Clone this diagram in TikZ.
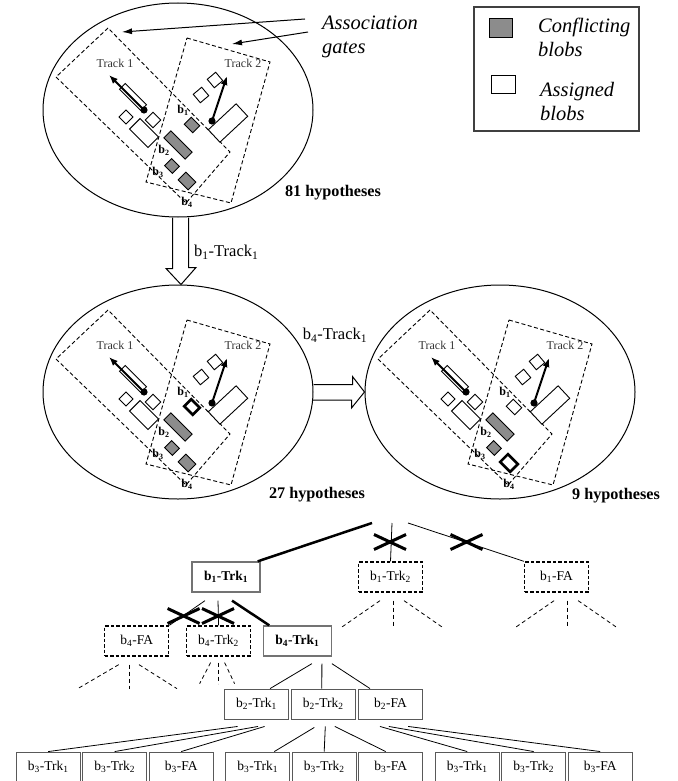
\documentclass[tikz,border=0pt]{standalone}
\usepackage{fontspec}
\setmainfont{Liberation Serif}
\usetikzlibrary{shapes.geometric,arrows.meta}

\newcommand{\ix}[1]{\textsubscript{#1}}

\tikzset{
  hyp/.style={ellipse, draw, line width=1pt, minimum width=270pt, minimum height=214pt, inner sep=0pt},
  gate/.style={line width=0.9pt, dash pattern=on 4pt off 2.5pt},
  blob/.style={draw, line width=0.9pt, fill=white, inner sep=0pt},
  confl/.style={blob, fill=black!45},
  picked/.style={blob, line width=2.6pt},
  trkarr/.style={line width=2pt, -{Latex[length=9pt,width=7pt]}},
  trk/.style={font=\fontsize{12}{14}\selectfont, text=black!80, inner sep=0pt},
  blbl/.style={font=\fontsize{12}{14}\selectfont\bfseries, inner sep=0pt},
  note/.style={font=\fontsize{20.5}{24}\selectfont\itshape, align=left, inner sep=0pt},
  hypcount/.style={font=\fontsize{16.2}{18}\selectfont\bfseries, inner sep=0pt},
  arrlbl/.style={font=\fontsize{16.5}{18}\selectfont, inner sep=0pt},
  pointer/.style={line width=1pt, -{Latex[length=10pt,width=6pt]}},
  blockarr/.style={line width=1pt, line join=miter},
  tbox/.style={minimum width=64pt, minimum height=30pt, inner sep=0pt, font=\fontsize{13.5}{15}\selectfont},
  chosen/.style={tbox, draw=black!55, line width=1.3pt, minimum width=68pt, font=\fontsize{13.5}{15}\selectfont\bfseries},
  pruned/.style={tbox, draw, line width=1.3pt, dash pattern=on 3.5pt off 2pt},
  leaf/.style={tbox, draw=black!65, line width=0.9pt},
  sel/.style={line width=2.5pt},
  link/.style={line width=0.8pt},
  fan/.style={line width=0.8pt, dash pattern=on 4pt off 3pt},
  xmark/.style={line width=3pt}
}

% one hypothesis: shift, style of b1, style of b4
\newcommand{\hypscene}[3]{%
  \begin{scope}[shift={#1}]
    % association gates
    \draw[gate] (108,28) -- (56,77) -- (186,203) -- (230,152) -- cycle;
    \draw[gate] (187,38) -- (270,62) -- (231,203) -- (146,182) -- cycle;
    \node[trk] at (115,63) {Track 1};
    \node[trk] at (243,63) {Track 2};
    % track 1 and its blobs
    \node[blob, minimum width=30pt, minimum height=8pt, rotate=-45] at (133,97) {};
    \draw[trkarr] (144,110) -- (109,75);
    \fill (144,110) circle (3.6pt);
    \node[blob, minimum size=10pt, rotate=-45] at (126,117) {};
    \node[blob, minimum size=11pt, rotate=-45] at (153,120) {};
    \node[blob, minimum width=26pt, minimum height=15pt, rotate=-45] at (144,133) {};
    % track 2 and its blobs
    \node[blob, minimum width=38pt, minimum height=17pt, rotate=43] at (228,123) {};
    \node[blob, minimum size=11pt, rotate=40] at (201,95) {};
    \node[blob, minimum size=11pt, rotate=40] at (215,80) {};
    \draw[trkarr] (212,121) -- (227,76);
    \fill (212,121) circle (3.6pt);
    % blobs in both gates
    \node[#2, minimum width=12pt, minimum height=10pt, rotate=-45] at (192,125) {};
    \node[confl, minimum width=30pt, minimum height=10pt, rotate=-45] at (178,145) {};
    \node[confl, minimum width=11pt, minimum height=10pt, rotate=-45] at (172,166) {};
    \node[#3, minimum width=14pt, minimum height=11pt, rotate=-45] at (187,181) {};
    \node[blbl] at (183,110) {b\ix{1}};
    \node[blbl] at (164,150) {b\ix{2}};
    \node[blbl] at (158,172) {b\ix{3}};
    \node[blbl] at (187,202) {b\ix{4}};
  \end{scope}}

\begin{document}
\begin{tikzpicture}[x=1pt, y=-1pt]
  \useasboundingbox (0,0) rectangle (677,781);

  % hypotheses
  \node[hyp] (h81) at (178,110) {};
  \node[hyp] (h27) at (178,392) {};
  \node[hyp] (h9) at (500,392) {};
  \hypscene{(0,0)}{confl}{confl}
  \hypscene{(0,282)}{picked}{confl}
  \hypscene{(322,282)}{blob}{picked}
  \node[hypcount] (n81) at (333,193) {81 hypotheses};
  \node[hypcount] (n27) at (317,495) {27 hypotheses};
  \node[hypcount] (n9) at (616,496) {9 hypotheses};

  % gates note
  \node[note, anchor=west] (assoc) at (322,37) {Association\\gates};
  \coordinate (g1) at (122,32);
  \coordinate (g2) at (232,44);
  \draw[pointer] ([shift={(-17,-18)}]assoc.west) -- (g1);
  \draw[pointer] ([shift={(-14,-5)}]assoc.west) -- (g2);

  % legend
  \draw[line width=1.2pt, black!75] (474,7) rectangle (639,131);
  \node[confl, minimum width=23pt, minimum height=19pt] (kc) at (500.5,27.5) {};
  \node[blob, minimum width=24pt, minimum height=18pt] (ka) at (503,84) {};
  \node[note, anchor=west] (kct) at (538,37.5) {Conflicting\\blobs};
  \node[note, anchor=west] (kat) at (540,101.5) {Assigned\\blobs};

  % block arrows
  \draw[blockarr] ([xshift=-5.5pt]h81.south) -- ++(0,51) -- ++(-6.5,0) -- ([xshift=3pt]h27.north)
    -- ++(15,-17) -- ++(-7.5,0) |- ([xshift=10.5pt]h81.south);
  \node[arrlbl, anchor=west] (l1) at (194,252) {b\ix{1}-Track\ix{1}};
  \draw[blockarr] ([shift={(0,-7.5)}]h27.east) -- ++(39,0) -- ++(0,-8) -- (h9.west)
    -- ++(-13,16) -- ++(0,-8) -| ([shift={(0,7.5)}]h27.east);
  \node[arrlbl] (l4) at (335,335) {b\ix{4}-Track\ix{1}};

  % hypothesis tree
  \coordinate (root) at (392,523);
  \node[chosen] (b1t1) at (226,577) {b\ix{1}-Trk\ix{1}};
  \node[pruned] (b1t2) at (390.5,577) {b\ix{1}-Trk\ix{2}};
  \node[pruned] (b1fa) at (556.6,577) {b\ix{1}-FA};
  \node[pruned] (b4fa) at (136.7,641) {b\ix{4}-FA};
  \node[pruned] (b4t2) at (218.6,641) {b\ix{4}-Trk\ix{2}};
  \node[chosen] (b4t1) at (297.4,641) {b\ix{4}-Trk\ix{1}};
  \node[leaf] (b2t1) at (256.6,704) {b\ix{2}-Trk\ix{1}};
  \node[leaf] (b2t2) at (323.3,704) {b\ix{2}-Trk\ix{2}};
  \node[leaf] (b2fa) at (390.5,704) {b\ix{2}-FA};
  \foreach \g in {0,1,2}
    \foreach \k/\lab in {0/{Trk\ix{1}},1/{Trk\ix{2}},2/FA}
      \node[leaf] (b3-\g-\k) at ({48.2+66.5*\k+209.5*\g},767) {b\ix{3}-\lab};

  % first level
  \draw[sel] ([xshift=-20pt]root) -- ([xshift=-3pt]b1t1.north east);
  \draw[link] (root) -- (b1t2.north);
  \draw[link] ([xshift=16pt]root) -- (b1fa.north west);
  % second level
  \draw[link] ([shift={(-21,8)}]b1t1.south) -- (b4fa.north east);
  \draw[link] ([shift={(-8,8)}]b1t1.south) -- (b4t2.north);
  \draw[sel] ([shift={(6,8)}]b1t1.south) -- ([xshift=6.5pt]b4t1.north west);
  % rejected branches
  \foreach \cx/\cy in {390/542, 466.5/542, 183.6/616, 218/616}
    \draw[xmark] (\cx-16,\cy-7.5) -- (\cx+16,\cy+7.5) (\cx-16,\cy+7.5) -- (\cx+16,\cy-7.5);
  \foreach \n/\dx in {b1t2/0, b1fa/8} {
    \draw[fan] ([shift={(\dx-10.5,8)}]\n.south) -- ++(-39,27);
    \draw[fan] ([shift={(\dx+2.5,8)}]\n.south) -- ++(0,27);
    \draw[fan] ([shift={(\dx+13.5,8)}]\n.south) -- ++(39,27);
  }
  \draw[fan] ([shift={(-18,8)}]b4fa.south) -- ++(-41,24);
  \draw[fan] ([shift={(-7,8)}]b4fa.south) -- ++(0,24);
  \draw[fan] ([shift={(2.3,8)}]b4fa.south) -- ++(38,24);
  \draw[fan] ([shift={(-8,6)}]b4t2.south) -- ++(-11,21);
  \draw[fan] ([shift={(0,6)}]b4t2.south) -- ++(0,21);
  \draw[fan] ([shift={(6,6)}]b4t2.south) -- ++(10,21);
  % third level
  \draw[link] ([shift={(14.5,7)}]b4t1.south) -- ([xshift=13.5pt]b2t1.north);
  \draw[link] ([shift={(24.5,7)}]b4t1.south) -- ([xshift=-1.5pt]b2t2.north);
  \draw[link] ([shift={(34.5,7)}]b4t1.south) -- ([xshift=-20.5pt]b2fa.north);
  % fourth level
  \draw[link] ([shift={(-19,7)}]b2t1.south) -- (b3-0-0.north);
  \draw[link] ([shift={(1.4,7)}]b2t1.south) -- (b3-0-1.north);
  \draw[link] ([shift={(8,7)}]b2t1.south) -- (b3-0-2.north);
  \draw[link] ([shift={(-9,8)}]b2t2.south) -- ([xshift=16.6pt]b3-1-0.north);
  \draw[link] ([shift={(2,7)}]b2t2.south) -- (b3-1-1.north);
  \draw[link] ([shift={(11.5,7)}]b2t2.south) -- ([xshift=-5pt]b3-1-2.north);
  \draw[link] ([shift={(-10.5,7)}]b2fa.south) -- (b3-2-0.north);
  \draw[link] ([shift={(-1.7,7)}]b2fa.south) -- (b3-2-1.north);
  \draw[link] ([shift={(17.7,7)}]b2fa.south) -- (b3-2-2.north);
\end{tikzpicture}
\end{document}
